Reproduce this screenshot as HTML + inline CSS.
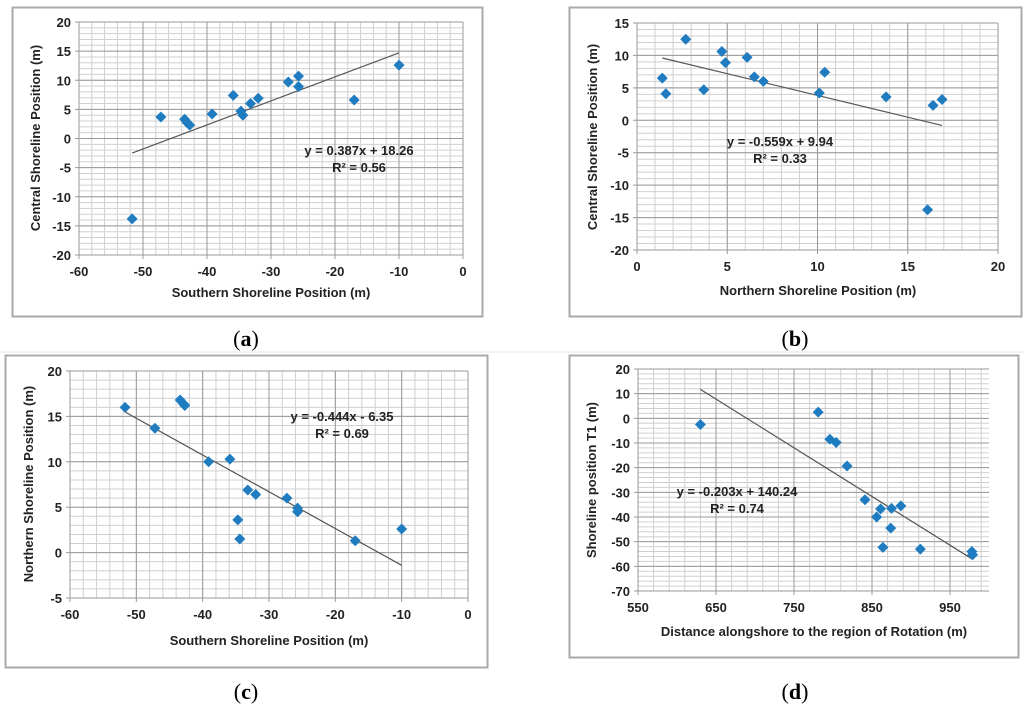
<!DOCTYPE html>
<html><head><meta charset="utf-8">
<style>
body{margin:0;background:#fff;}
svg{display:block;font-family:"Liberation Sans",sans-serif;}
.tk{font-size:13px;font-weight:bold;fill:#222;}
.ttl{font-size:13px;font-weight:bold;fill:#222;}
.cap{font-family:"Liberation Serif",serif;font-size:22px;fill:#000;}
</style></head>
<body>
<svg id="fig" width="1024" height="709"></svg>
<script>
const aX=[-51.7,-47.2,-43.5,-43.1,-42.7,-39.2,-35.9,-34.7,-34.4,-33.2,-32.0,-27.3,-25.7,-25.7,-17.0,-10.0];
const aY=[-13.8,3.7,3.3,2.7,2.3,4.2,7.4,4.7,4.0,6.0,6.9,9.7,10.7,8.9,6.6,12.6];
const bX=[1.4,1.6,2.7,3.7,4.7,4.9,6.1,6.5,7.0,10.1,10.4,13.8,16.1,16.4,16.9];
const bY=[6.5,4.1,12.5,4.7,10.6,8.9,9.7,6.7,6.0,4.2,7.4,3.6,-13.8,2.3,3.2];
const cX=[-51.7,-47.2,-43.4,-42.9,-42.7,-39.1,-35.9,-34.7,-34.4,-33.2,-32.0,-27.3,-25.7,-25.7,-17.0,-10.0];
const cY=[16.0,13.7,16.8,16.4,16.2,10.0,10.3,3.6,1.5,6.9,6.4,6.0,4.9,4.5,1.3,2.6];
const dX=[630,781,796,804,818,841,856,861,864,874,875,887,912,978,979];
const dY=[-2.5,2.5,-8.5,-9.8,-19.3,-33,-40,-36.7,-52.3,-44.5,-36.5,-35.5,-53,-54,-55.3];
const aTicksX=[-60,-50,-40,-30,-20,-10,0], aTicksY=[-20,-15,-10,-5,0,5,10,15,20];
const bTicksX=[0,5,10,15,20], bTicksY=[-20,-15,-10,-5,0,5,10,15];
const cTicksX=[-60,-50,-40,-30,-20,-10,0], cTicksY=[-5,0,5,10,15,20];
const dTicksX=[550,650,750,850,950], dTicksY=[-70,-60,-50,-40,-30,-20,-10,0,10,20];
// trendline as drawn in the picture (slope, intercept)
const aFit=[0.4125,18.83], bFit=[-0.671,10.54], cFit=[-0.405,-5.45], dFit=[-0.1974,136.1];

const NS="http://www.w3.org/2000/svg", svg=document.getElementById('fig');
function el(t,a,p){const e=document.createElementNS(NS,t);for(const k in a)e.setAttribute(k,a[k]);(p||svg).appendChild(e);return e;}

function chart(o){
  const g=el('g',{});
  
  
  const fr=el('rect',{x:o.fr[0]+.5,y:o.fr[1]+.5,width:o.fr[2]-o.fr[0],height:o.fr[3]-o.fr[1],fill:'#fff',stroke:'#aaa','stroke-width':2},g);
  
  
  const [x0,x1]=o.xd,[y0,y1]=o.yd,[px0,px1]=o.px,[py0,py1]=o.py;
  const sx=v=>px0+(v-x0)/(x1-x0)*(px1-px0), sy=v=>py0+(v-y0)/(y1-y0)*(py1-py0);
  for(let v=x0;v<=x1+1e-9;v+=o.mx) el('line',{x1:sx(v),x2:sx(v),y1:py1,y2:py0,stroke:'#d0d0d0','stroke-width':1},g);
  for(let v=y0;v<=y1+1e-9;v+=o.my) el('line',{x1:px0,x2:px1,y1:sy(v),y2:sy(v),stroke:'#d0d0d0','stroke-width':1},g);
  o.tx.forEach(v=>{el('line',{x1:sx(v),x2:sx(v),y1:py1,y2:py0+4,stroke:'#999'},g);
    const t=el('text',{x:sx(v),y:py0+21,'text-anchor':'middle',class:'tk'},g);t.textContent=v;
    });
  o.ty.forEach(v=>{el('line',{x1:px0-4,x2:px1,y1:sy(v),y2:sy(v),stroke:'#999'},g);
    const t=el('text',{x:px0-8,y:sy(v)+5,'text-anchor':'end',class:'tk'},g);t.textContent=v;
    });
  const xs=o.X, lo=Math.min(...xs), hi=Math.max(...xs);
  const tl=el('line',{x1:sx(lo),y1:sy(o.fit[0]*lo+o.fit[1]),x2:sx(hi),y2:sy(o.fit[0]*hi+o.fit[1]),stroke:'#555','stroke-width':1.2},g);
  
  o.X.forEach((v,i)=>{const cx=sx(v),cy=sy(o.Y[i]),r=5.5;
    const p=el('path',{d:`M${cx} ${cy-r}L${cx+r} ${cy}L${cx} ${cy+r}L${cx-r} ${cy}Z`,fill:'#1f7cc0'},g);
    });
  const xt=el('text',{x:o.xt[0],y:o.xt[1],'text-anchor':'middle',class:'ttl'},g);xt.textContent=o.xl;
  
  const yt=el('text',{x:0,y:0,'text-anchor':'middle',class:'ttl',transform:`translate(${o.yt[0]},${o.yt[1]}) rotate(-90)`},g);yt.textContent=o.yl;
  
  const e1=el('text',{x:o.eq[0],y:o.eq[1],'text-anchor':'middle',class:'ttl'},g);
  e1.textContent='y = '+o.eqs;
  
  const e2=el('text',{x:o.eq[0],y:o.eq[1]+17,'text-anchor':'middle',class:'ttl'},g);
  e2.textContent='R² = '+o.r2;
  
  const c=el('text',{x:o.cap[0],y:o.cap[1],'text-anchor':'middle',class:'cap'},g);
  c.innerHTML='(<tspan font-weight="bold">'+o.cl+'</tspan>)';
  
}
chart({name:'chart-a',fr:[12,7,482,316],xd:[-60,0],yd:[-20,20],px:[79,463],py:[255,22],mx:2,my:1,tx:aTicksX,ty:aTicksY,X:aX,Y:aY,fit:aFit,
  xl:'Southern Shoreline Position (m)',xt:[271,297],yl:'Central Shoreline Position (m)',yt:[40,138],eq:[359,155],eqs:'0.387x + 18.26',r2:'0.56',cap:[246,346],cl:'a'});
chart({name:'chart-b',fr:[569,7,1021,316],xd:[0,20],yd:[-20,15],px:[637,998],py:[250,23],mx:1,my:1,tx:bTicksX,ty:bTicksY,X:bX,Y:bY,fit:bFit,
  xl:'Northern Shoreline Position (m)',xt:[818,295],yl:'Central Shoreline Position (m)',yt:[597,137],eq:[780,146],eqs:'-0.559x + 9.94',r2:'0.33',cap:[795,346],cl:'b'});
chart({name:'chart-c',fr:[5,355,487,667],xd:[-60,0],yd:[-5,20],px:[70,468],py:[598,371],mx:2,my:1,tx:cTicksX,ty:cTicksY,X:cX,Y:cY,fit:cFit,
  xl:'Southern Shoreline Position (m)',xt:[269,645],yl:'Northern Shoreline Position (m)',yt:[33,484],eq:[342,421],eqs:'-0.444x - 6.35',r2:'0.69',cap:[246,699],cl:'c'});
chart({name:'chart-d',fr:[569,355,1018,657],xd:[550,1000],yd:[-70,20],px:[638,989],py:[591,369],mx:20,my:2,tx:dTicksX,ty:dTicksY,X:dX,Y:dY,fit:dFit,
  xl:'Distance alongshore to the region of Rotation (m)',xt:[814,636],yl:'Shoreline position T1 (m)',yt:[596,480],eq:[737,496],eqs:'-0.203x + 140.24',r2:'0.74',cap:[795,699],cl:'d'});
el('line',{x1:0,x2:1024,y1:352,y2:352,stroke:'#e4e4e4'});
</script>
</body></html>
